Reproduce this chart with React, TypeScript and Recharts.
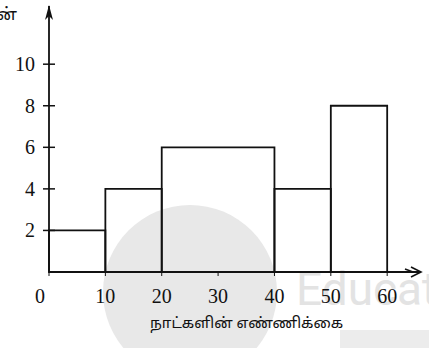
import { ComposedChart, XAxis, YAxis, ReferenceArea, ReferenceDot, Line } from "recharts"

const BIN_START = [0, 10, 20, 40, 50]
const BIN_END = [10, 20, 40, 50, 60]
const FREQ = [2, 4, 6, 4, 8]
const X_TICKS = [0, 10, 20, 30, 40, 50, 60]
const Y_TICKS = [2, 4, 6, 8, 10]
const X_LABEL = "நாட்களின் எண்ணிக்கை"
const Y_LABEL_TAIL = "ன்"

const X_MAX = 66
const Y_MAX = 12.8
const SERIF = "'Liberation Serif', 'DejaVu Serif', serif"
const TAMIL = "'Noto Sans Tamil', 'Lohit Tamil', 'Latha', sans-serif"

const data = BIN_START.map((s, i) => ({ mid: (s + BIN_END[i]) / 2, freq: FREQ[i] }))

function XTick(props: any) {
  const { x, y, payload } = props
  const shift = payload.value === 0 ? -9 : 0
  return (
    <text x={x + shift} y={y} dy={25} textAnchor="middle" fontFamily={SERIF} fontSize={20} fill="#111">
      {payload.value}
    </text>
  )
}

function YTick(props: any) {
  const { y, payload } = props
  return (
    <g>
      <line x1={43} x2={55} y1={y} y2={y} stroke="#111" strokeWidth={1.5} />
      <text x={35} y={y} dy={7} textAnchor="end" fontFamily={SERIF} fontSize={20} fill="#111">
        {payload.value}
      </text>
    </g>
  )
}

const ArrowUp = (props: any) => {
  const { cx, cy } = props
  return <path d={`M${cx},${cy - 1} L${cx - 4},${cy + 14} L${cx},${cy + 10} L${cx + 4},${cy + 14} Z`} fill="#111" />
}

const ArrowRight = (props: any) => {
  const { cx, cy } = props
  return (
    <g fill="none" stroke="#111" strokeWidth={1.6}>
      <path d={`M${cx - 10},${cy - 5} L${cx},${cy} L${cx - 10},${cy + 5}`} />
      <path d={`M${cx - 16},${cy - 3} L${cx - 8},${cy}`} />
    </g>
  )
}

export default function App() {
  return (
    <div style={{ position: "absolute", left: 0, top: 0, width: 429, height: 348, background: "#fff", overflow: "hidden" }}>
      {/* faint watermark from the scan */}
      <div style={{ position: "absolute", left: 103, top: 205, width: 174, height: 174, borderRadius: "50%", background: "#e8e8e8" }} />
      <div style={{ position: "absolute", left: 296, top: 262, fontFamily: "Roboto, sans-serif", fontSize: 46, color: "#e3e3e3", whiteSpace: "nowrap" }}>
        Educat
      </div>
      <div style={{ position: "absolute", left: 340, top: 330, width: 100, height: 20, background: "#ececec" }} />

      <div style={{ position: "absolute", left: 0, top: 0 }}>
        <ComposedChart width={429} height={348} data={data} margin={{ top: 6, right: 8, bottom: 46, left: 0 }}>
          <XAxis
            type="number"
            dataKey="mid"
            domain={[0, X_MAX]}
            ticks={X_TICKS}
            interval={0}
            height={30}
            tickSize={4}
            tickMargin={2}
            axisLine={{ stroke: "#111", strokeWidth: 1.8 }}
            tickLine={{ stroke: "#111" }}
            tick={<XTick />}
            allowDataOverflow
          />
          <YAxis
            type="number"
            domain={[0, Y_MAX]}
            ticks={Y_TICKS}
            interval={0}
            width={49}
            axisLine={{ stroke: "#111", strokeWidth: 1.8 }}
            tickLine={false}
            tick={<YTick />}
            allowDataOverflow
          />
          <Line dataKey="freq" stroke="none" dot={false} activeDot={false} isAnimationActive={false} />
          {FREQ.map((f, i) => (
            <ReferenceArea
              key={i}
              x1={BIN_START[i]}
              x2={BIN_END[i]}
              y1={0}
              y2={f}
              fill="none"
              fillOpacity={0}
              stroke="#111"
              strokeWidth={1.8}
              ifOverflow="visible"
            />
          ))}
          <ReferenceDot x={0} y={Y_MAX} r={0} shape={<ArrowUp />} ifOverflow="visible" />
          <ReferenceDot x={X_MAX} y={0} r={0} shape={<ArrowRight />} ifOverflow="visible" />
        </ComposedChart>
      </div>

      <div style={{ position: "absolute", left: -4, top: 5, fontFamily: TAMIL, fontSize: 17, color: "#111" }}>{Y_LABEL_TAIL}</div>
      <div style={{ position: "absolute", left: 150, top: 315, width: 130, textAlign: "center", fontFamily: TAMIL, fontSize: 15, color: "#111", whiteSpace: "nowrap" }}>
        {X_LABEL}
      </div>
    </div>
  )
}
